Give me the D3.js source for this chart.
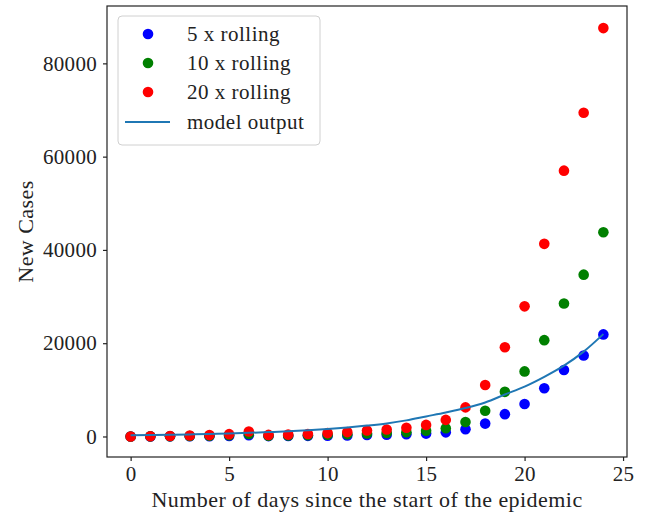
<!DOCTYPE html>
<html>
<head>
<meta charset="utf-8">
<script src="https://cdn.jsdelivr.net/npm/d3@7"></script>
<style>
  body { margin: 0; background: #fff; }
  svg { display: block; }
  text { font-family: 'Liberation Serif', 'Times New Roman', serif; fill: #222; }
  .axis path, .axis line { stroke: #222; stroke-width: 1.2; }
  .axis text { font-size: 21px; letter-spacing: 0.3px; }
  .label { font-size: 22px; letter-spacing: 0.45px; }
  .legend text { font-size: 21px; letter-spacing: 0.5px; }
</style>
</head>
<body>
<svg width="649" height="518"></svg>
<script>
const days = [0, 1, 2, 3, 4, 5, 6, 7, 8, 9, 10, 11, 12, 13, 14, 15, 16, 17, 18, 19, 20, 21, 22, 23, 24];

const rolling5 = [0, 15, 25, 50, 75, 125, 265, 85, 100, 130, 180, 235, 320, 375, 465, 620, 890, 1560, 2760, 4785, 6975, 10325, 14250, 17350, 21890];
const rolling10 = [0, 30, 50, 100, 150, 250, 530, 170, 200, 260, 360, 470, 640, 750, 930, 1240, 1780, 3120, 5520, 9570, 13950, 20650, 28500, 34700, 43780];
const rolling20 = [0, 60, 100, 200, 300, 500, 1060, 340, 400, 520, 720, 940, 1280, 1500, 1860, 2480, 3560, 6240, 11040, 19140, 27900, 41300, 57000, 69400, 87560];
const model = [260, 310, 375, 450, 540, 650, 780, 940, 1120, 1350, 1620, 1940, 2330, 2800, 3450, 4300, 5150, 6100, 7300, 9000, 10700, 12800, 15200, 18200, 21950];

const xTicks = [0, 5, 10, 15, 20, 25];
const yTicks = [0, 20000, 40000, 60000, 80000];

const series = [
  { name: '5 x rolling', values: rolling5, color: '#0000ff' },
  { name: '10 x rolling', values: rolling10, color: '#008000' },
  { name: '20 x rolling', values: rolling20, color: '#ff0000' }
];

const svg = d3.select('svg');

const plotLeft = 107, plotRight = 627, plotTop = 6, plotBottom = 457;

const xScale = d3.scaleLinear()
  .domain([-1.2, 25.2])
  .range([plotLeft, plotRight]);

const yScale = d3.scaleLinear()
  .domain([-4400, 92300])
  .range([plotBottom, plotTop]);

// axes
svg.append('g')
  .attr('class', 'axis')
  .attr('transform', `translate(0, ${plotBottom})`)
  .call(d3.axisBottom(xScale).tickValues(xTicks).tickSize(4).tickPadding(5).tickSizeOuter(0))
  .call(g => g.select('.domain').remove());

svg.append('g')
  .attr('class', 'axis')
  .attr('transform', `translate(${plotLeft}, 0)`)
  .call(d3.axisLeft(yScale).tickValues(yTicks).tickFormat(d3.format('d')).tickSize(4).tickPadding(6).tickSizeOuter(0))
  .call(g => g.select('.domain').remove());

svg.selectAll('.axis text').attr('fill', '#222');

// frame
svg.append('rect')
  .attr('x', plotLeft)
  .attr('y', plotTop)
  .attr('width', plotRight - plotLeft)
  .attr('height', plotBottom - plotTop)
  .attr('fill', 'none')
  .attr('stroke', '#222')
  .attr('stroke-width', 1.2);

// scatter
series.forEach((s) => {
  svg.append('g')
    .selectAll('circle')
    .data(s.values)
    .enter()
    .append('circle')
    .attr('cx', (d, i) => xScale(days[i]))
    .attr('cy', (d) => yScale(d))
    .attr('r', 5.3)
    .attr('fill', s.color);
});

// model line
const line = d3.line()
  .x((d, i) => xScale(days[i]))
  .y((d) => yScale(d))
  .curve(d3.curveMonotoneX);

svg.append('path')
  .datum(model)
  .attr('d', line)
  .attr('fill', 'none')
  .attr('stroke', '#1f77b4')
  .attr('stroke-width', 2);

// labels
svg.append('text')
  .attr('class', 'label')
  .attr('x', (plotLeft + plotRight) / 2)
  .attr('y', 507)
  .attr('text-anchor', 'middle')
  .text('Number of days since the start of the epidemic');

svg.append('text')
  .attr('class', 'label')
  .attr('transform', `translate(33, ${(plotTop + plotBottom) / 2}) rotate(-90)`)
  .attr('text-anchor', 'middle')
  .text('New Cases');

// legend
const legend = svg.append('g').attr('class', 'legend');

legend.append('rect')
  .attr('x', 118)
  .attr('y', 16)
  .attr('width', 202)
  .attr('height', 129)
  .attr('rx', 4)
  .attr('fill', '#fff')
  .attr('fill-opacity', 0.8)
  .attr('stroke', '#d0d0d0');

const rowY = [34, 63, 92, 122];

series.forEach((s, i) => {
  legend.append('circle')
    .attr('cx', 148)
    .attr('cy', rowY[i])
    .attr('r', 5.3)
    .attr('fill', s.color);
  legend.append('text')
    .attr('x', 187)
    .attr('y', rowY[i])
    .attr('dy', '0.35em')
    .text(s.name);
});

legend.append('line')
  .attr('x1', 125)
  .attr('x2', 170)
  .attr('y1', rowY[3])
  .attr('y2', rowY[3])
  .attr('stroke', '#1f77b4')
  .attr('stroke-width', 2);

legend.append('text')
  .attr('x', 187)
  .attr('y', rowY[3])
  .attr('dy', '0.35em')
  .text('model output');
</script>
</body>
</html>
